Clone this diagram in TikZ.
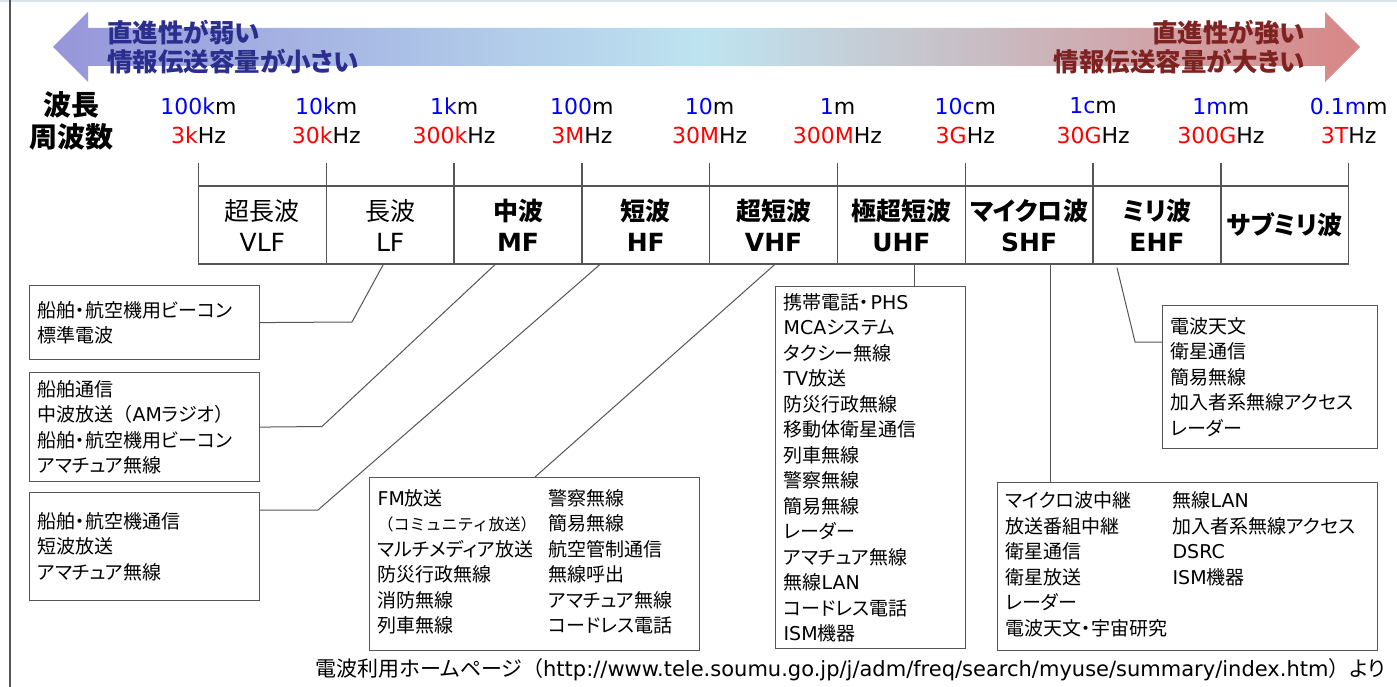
\documentclass[tikz,border=0pt]{standalone}
\usepackage{fontspec}
\usetikzlibrary{calc}
\setmainfont{DejaVu Sans}
\newfontfamily\jp{Noto Sans CJK JP}[RawFeature=+palt]
\newfontfamily\jpfw{Noto Sans CJK JP}
\newfontfamily\latf{DejaVu Sans}
\definecolor{wlblue}{HTML}{0000FF}
\definecolor{fqred}{HTML}{FF0000}
\definecolor{linegray}{HTML}{555555}
\definecolor{weakblue}{HTML}{2B2E8C}
\definecolor{strongred}{HTML}{7E2222}
\definecolor{arrowleft}{RGB}{150,150,218}
\definecolor{arrowmid}{RGB}{190,228,240}
\definecolor{arrowright}{RGB}{216,134,134}
\definecolor{topline}{HTML}{D8E4EE}

\begin{document}
\begin{tikzpicture}[x=1pt,y=-1pt,
  arrowtext/.style={font=\jp\bfseries\fontsize{25.5}{30}\selectfont, inner sep=0pt},
  axislabel/.style={font=\jp\bfseries\fontsize{28}{30}\selectfont, inner sep=0pt},
  scalelabel/.style={font=\latf\fontsize{22}{26}\selectfont, inner sep=0pt},
  tableline/.style={draw=linegray, line width=1.3pt},
  band/.style={tableline, minimum width=127.8pt, minimum height=78pt, inner sep=0pt,
    align=center, font=\jp\fontsize{25}{31}\selectfont},
  boldband/.style={band, font=\jp\bfseries\fontsize{25}{31}\selectfont},
  usebox/.style={draw=linegray, line width=1.2pt, anchor=north west, inner xsep=8pt,
    inner ysep=0pt, align=left, font=\jp\fontsize{19}{25.5}\selectfont},
  link/.style={draw=linegray, line width=1pt}]
\useasboundingbox (0,0) rectangle (1397,687);
\fill[white] (0,0) rectangle (1397,687);
\draw[topline, line width=2pt] (0,1) -- (1397,1);
\draw[linegray, line width=2.5pt] (10,0) -- (10,687);

% arrow
\shade[left color=arrowleft, right color=arrowright, middle color=arrowmid]
  (53,47) -- (88,12) -- (88,28) -- (1325,28) -- (1325,12) -- (1360,47)
  -- (1325,82) -- (1325,66) -- (88,66) -- (88,82) -- cycle;
\node[arrowtext, text=weakblue, anchor=west] (weak1) at (107,33) {直進性が弱い};
\node[arrowtext, text=weakblue, anchor=west] (weak2) at (107,62) {情報伝送容量が小さい};
\node[arrowtext, text=strongred, anchor=east] (strong1) at (1305,33) {直進性が強い};
\node[arrowtext, text=strongred, anchor=east] (strong2) at (1305,62) {情報伝送容量が大きい};

% scale
\node[axislabel] (wavelength) at (71,105) {波長};
\node[axislabel] (frequency) at (71,137) {周波数};
\foreach \w/\f [count=\i from 0] in {100k/3k,10k/30k,1k/300k,100/3M,10/30M,1/300M,10c/3G,1c/30G,1m/300G,0.1m/3T} {
  \node[scalelabel] (wl\i) at (198.5+127.8*\i,106) {\textcolor{wlblue}{\w}m};
  \node[scalelabel] (fq\i) at (198.5+127.8*\i,135) {\textcolor{fqred}{\f}Hz};
  \draw[tableline] (198.5+127.8*\i,163) -- (198.5+127.8*\i,186);
}

% bands
\node[band] (vlf) at (262.4,225) {超長波\\\latf VLF};
\node[band] (lf) at (390.2,225) {長波\\\latf LF};
\node[boldband] (mf) at (518.0,225) {中波\\\latf MF};
\node[boldband] (hf) at (645.8,225) {短波\\\latf HF};
\node[boldband] (vhf) at (773.6,225) {超短波\\\latf VHF};
\node[boldband] (uhf) at (901.4,225) {極超短波\\\latf UHF};
\node[boldband] (shf) at (1029.2,225) {マイクロ波\\\latf SHF};
\node[boldband] (ehf) at (1157.0,225) {ミリ波\\\latf EHF};
\node[boldband] (submm) at (1284.8,225) {サブミリ波};

% uses
\node[usebox, text width=214pt, minimum height=74pt] (beacon) at (29,285)
  {船舶・航空機用ビーコン\\標準電波};
\node[usebox, text width=214pt, minimum height=109pt] (mwuse) at (29,372)
  {船舶通信\\中波放送{\jpfw （}{\latf AM}ラジオ{\jpfw ）}\\船舶・航空機用ビーコン\\アマチュア無線};
\node[usebox, text width=214pt, minimum height=108pt] (swuse) at (29,492)
  {船舶・航空機通信\\短波放送\\アマチュア無線};
\node[usebox, text width=314pt, minimum height=173pt] (vhfuse) at (369,477)
  {\begin{tabular}{@{}p{171pt}@{}l@{}}
  {\latf FM}放送 & 警察無線\\
  {\jpfw\fontsize{16}{25.5}\selectfont （コミュニティ放送）} & 簡易無線\\
  マルチメディア放送 & 航空管制通信\\
  防災行政無線 & 無線呼出\\
  消防無線 & アマチュア無線\\
  列車無線 & コードレス電話
  \end{tabular}};
\node[usebox, text width=174pt, minimum height=362pt] (uhfuse) at (775,286)
  {携帯電話・\kern1.5pt{\latf PHS}\\{\latf MCA}システム\\タクシー無線\\{\latf TV}放送\\防災行政無線\\
  移動体衛星通信\\列車無線\\警察無線\\簡易無線\\レーダー\\アマチュア無線\\
  無線{\latf LAN}\\コードレス電話\\{\latf ISM}機器};
\node[usebox, text width=364pt, minimum height=168pt] (shfuse) at (997,482)
  {\begin{tabular}{@{}p{167pt}@{}l@{}}
  マイクロ波中継 & 無線{\latf LAN}\\
  放送番組中継 & 加入者系無線アクセス\\
  衛星通信 & {\latf DSRC}\\
  衛星放送 & {\latf ISM}機器\\
  レーダー & \\
  電波天文・宇宙研究 &
  \end{tabular}};
\node[usebox, text width=199pt, minimum height=143pt] (ehfuse) at (1162,305)
  {電波天文\\衛星通信\\簡易無線\\加入者系無線アクセス\\レーダー};

% connectors
\coordinate (lfknee) at (352,322);
\draw[link] ([xshift=-7pt]lf.south) -- (lfknee) -- (beacon.east);
\coordinate (mfknee) at (322,426.5);
\draw[link] ([xshift=-23pt]mf.south) -- (mfknee) -- (mwuse.east);
\coordinate (hfknee) at (318,510);
\draw[link] ([xshift=-46pt]hf.south) -- (hfknee) -- (hfknee -| swuse.east);
\draw[link] ([xshift=1pt]vhf.south) -- ([xshift=166pt]vhfuse.north west);
\coordinate (uhffoot) at ([xshift=12.6pt]uhf.south);
\draw[link] (uhffoot) -- (uhffoot |- uhfuse.north);
\coordinate (shffoot) at ([xshift=21pt]shf.south);
\draw[link] (shffoot) -- (shffoot |- shfuse.north);
\coordinate (ehfknee) at (1135,342);
\draw[link] ([xshift=-40pt,yshift=-3pt]ehf.south) -- (ehfknee) -- (ehfknee -| ehfuse.west);

% source
\node[anchor=east, inner sep=0pt, font=\jp\fontsize{21}{23}\selectfont] (source) at (1385,670)
  {電波利用ホームページ{\jpfw （}{\latf http://www.tele.soumu.go.jp/j/adm/freq/search/myuse/summary/index.htm}{\jpfw ）}より};
\end{tikzpicture}
\end{document}
